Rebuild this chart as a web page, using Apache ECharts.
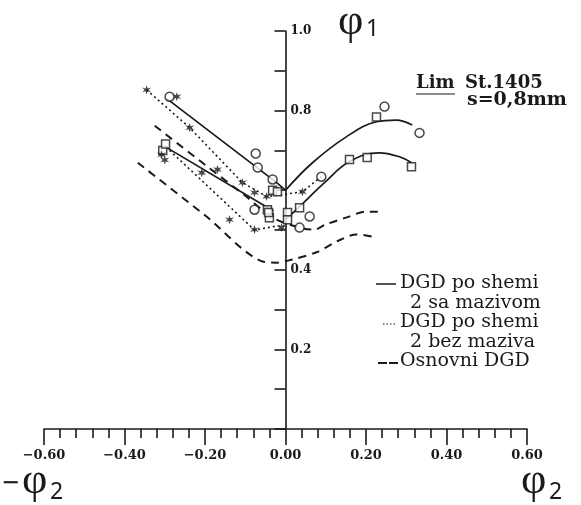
<!DOCTYPE html>
<html><head><meta charset="utf-8">
<script src="https://cdn.jsdelivr.net/npm/echarts@6.0.0/dist/echarts.min.js"></script>
<style>html,body{margin:0;padding:0;background:#fff}#c{width:581px;height:505px}</style>
</head><body><div id="c"></div>
<script>
// ---- data ----
const xTickValues = [-0.6, -0.4, -0.2, 0, 0.2, 0.4, 0.6];
const yTickLabels = ['1.0', '0.8', '0.4', '0.2'];

// DGD po shemi 2 sa mazivom (solid)
const solidUpperLeft  = [[-0.295, 0.830], [-0.022, 0.619], [0.000, 0.600]];
const solidUpperRight = [[0.000, 0.600], [0.067, 0.669], [0.151, 0.734], [0.226, 0.772], [0.275, 0.776], [0.315, 0.764]];
const solidLowerLeft  = [[-0.295, 0.707], [-0.030, 0.548]];
const solidLowerRight = [[0.000, 0.526], [0.035, 0.559], [0.097, 0.619], [0.159, 0.672], [0.233, 0.694], [0.283, 0.684], [0.313, 0.669]];

// DGD po shemi 2 bez maziva (dotted)
const dottedUpper = [[-0.345, 0.852], [-0.238, 0.757], [-0.107, 0.619], [-0.047, 0.584], [0.000, 0.590], [0.042, 0.596], [0.089, 0.634]];
const dottedLower = [[-0.288, 0.700], [-0.077, 0.500], [-0.022, 0.510], [0.000, 0.510]];

// Osnovni DGD (dashed)
const dashedUpper = [[-0.325, 0.762], [-0.200, 0.664], [-0.100, 0.586], [-0.030, 0.530], [0.035, 0.506], [0.072, 0.501], [0.100, 0.514], [0.150, 0.531], [0.200, 0.546], [0.233, 0.546]];
const dashedLower = [[-0.367, 0.669], [-0.200, 0.537], [-0.057, 0.421], [-0.022, 0.418], [0.017, 0.426], [0.077, 0.444], [0.127, 0.471], [0.176, 0.489], [0.226, 0.481]];

// measured points
const circlePts = [[-0.288, 0.835], [-0.074, 0.692], [-0.069, 0.657], [-0.032, 0.627], [-0.077, 0.551], [0.089, 0.634], [0.246, 0.810], [0.333, 0.744], [0.035, 0.506], [0.060, 0.534]];
const squarePts = [[-0.305, 0.700], [-0.298, 0.716], [-0.045, 0.551], [-0.040, 0.531], [-0.032, 0.600], [-0.020, 0.596], [0.005, 0.544], [0.005, 0.526], [0.035, 0.556], [0.159, 0.677], [0.203, 0.682], [0.313, 0.659], [0.226, 0.784], [-0.042, 0.544]];
const starPts   = [[-0.345, 0.852], [-0.270, 0.835], [-0.238, 0.757], [-0.169, 0.652], [-0.107, 0.619], [-0.077, 0.594], [-0.047, 0.584], [0.042, 0.596], [-0.308, 0.689], [-0.139, 0.526], [-0.077, 0.501], [-0.208, 0.644], [-0.010, 0.506], [-0.300, 0.676]];

// ---- chart ----
const ink = '#1a1a1a';
const starPath = 'path://M0,-10 L2.2,-3.2 L9,-5.2 L4,0 L9,5.2 L2.2,3.2 L0,10 L-2.2,3.2 L-9,5.2 L-4,0 L-9,-5.2 L-2.2,-3.2 Z';
const gridLeft = 44, gridRight = 54;
const plotW = 581 - gridLeft - gridRight;
const xMin = -0.6, xMax = 0.6;
const phiFont = '44px "Liberation Serif"';
const subFont = '23px "Noto Sans"';

function lineSeries(data, type, width, smooth) {
  return {
    type: 'line', data: data, showSymbol: false, smooth: smooth, silent: true,
    lineStyle: { color: ink, width: width, type: type }, z: 2
  };
}
function txt(x, y, text, font) {
  return { type: 'text', x: x, y: y, style: { text: text, font: font, fill: ink, verticalAlign: 'middle', align: 'left' } };
}

const chart = echarts.init(document.getElementById('c'), null, { renderer: 'canvas' });
chart.setOption({
  animation: false,
  backgroundColor: '#ffffff',
  grid: { left: gridLeft, right: gridRight, top: 31, bottom: 76, containLabel: false },
  xAxis: {
    type: 'value', min: xMin, max: xMax, interval: 0.2,
    axisLine: { show: true, onZero: true, lineStyle: { color: ink, width: 1.6 } },
    axisTick: { show: true, inside: false, length: 16, lineStyle: { color: ink, width: 1.6 } },
    minorTick: { show: true, splitNumber: 5, length: 9, lineStyle: { color: ink, width: 1.6 } },
    splitLine: { show: false },
    axisLabel: {
      margin: 20, color: ink, fontFamily: 'DejaVu Serif', fontWeight: 'bold', fontSize: 13,
      formatter: function (v) {
        const r = Math.round(v * 100) / 100;
        return (r < 0 ? '\u2212' : '') + Math.abs(r).toFixed(2);
      }
    }
  },
  yAxis: {
    type: 'value', min: 0, max: 1.0, interval: 0.1, position: 'left',
    offset: -plotW * (0 - xMin) / (xMax - xMin),
    axisLine: { show: true, onZero: false, lineStyle: { color: ink, width: 1.6 } },
    axisTick: { show: true, inside: false, length: 11, lineStyle: { color: ink, width: 1.6 } },
    splitLine: { show: false },
    axisLabel: {
      inside: true, margin: 5, color: ink, fontFamily: 'DejaVu Serif', fontWeight: 'bold', fontSize: 12,
      formatter: function (v) {
        const s = (Math.round(v * 10) / 10).toFixed(1);
        return yTickLabels.indexOf(s) >= 0 ? s : '';
      }
    }
  },
  series: [
    lineSeries(solidUpperLeft, 'solid', 1.7, false),
    lineSeries(solidUpperRight, 'solid', 1.7, 0.4),
    lineSeries(solidLowerLeft, 'solid', 1.7, false),
    lineSeries(solidLowerRight, 'solid', 1.7, 0.4),
    lineSeries(dottedUpper, [2, 3], 1.6, false),
    lineSeries(dottedLower, [2, 3], 1.6, false),
    lineSeries(dashedUpper, [8, 6], 2, 0.3),
    lineSeries(dashedLower, [8, 6], 2, 0.3),
    { type: 'scatter', data: circlePts, symbol: 'circle', symbolSize: 9, silent: true, z: 3,
      itemStyle: { color: '#ffffff', borderColor: ink, borderWidth: 1.5 } },
    { type: 'scatter', data: squarePts, symbol: 'rect', symbolSize: 8, silent: true, z: 3,
      itemStyle: { color: '#ffffff', borderColor: ink, borderWidth: 1.5 } },
    { type: 'scatter', data: starPts, symbol: starPath, symbolSize: 9, silent: true, z: 3,
      itemStyle: { color: ink } }
  ],
  graphic: [
    // axis names
    txt(338, 22, '\u03C6', phiFont),
    txt(366, 29, '1', subFont),
    txt(2, 484, '\u2212', '30px "Noto Sans"'),
    txt(22, 481, '\u03C6', phiFont),
    txt(50, 492, '2', subFont),
    txt(521, 481, '\u03C6', phiFont),
    txt(549, 492, '2', subFont),
    // material note
    { type: 'text', left: 416, top: 74, style: { text: 'Lim', font: 'bold 18px "DejaVu Serif"', fill: ink } },
    { type: 'line', shape: { x1: 416, y1: 94, x2: 455, y2: 94 }, style: { stroke: ink, lineWidth: 1.2 } },
    { type: 'text', left: 465, top: 74, style: { text: 'St.1405', font: 'bold 18px "DejaVu Serif"', fill: ink } },
    { type: 'text', left: 467, top: 91, style: { text: 's=0,8mm', font: 'bold 19px "DejaVu Serif"', fill: ink } },
    // legend
    { type: 'line', shape: { x1: 376, y1: 284, x2: 396, y2: 284 }, style: { stroke: ink, lineWidth: 1.5 } },
    { type: 'text', left: 400, top: 274, style: { text: 'DGD po shemi', font: '19px "DejaVu Serif"', fill: ink } },
    { type: 'text', left: 410, top: 294, style: { text: '2 sa mazivom', font: '19px "DejaVu Serif"', fill: ink } },
    { type: 'line', shape: { x1: 383, y1: 324, x2: 396, y2: 324 }, style: { stroke: ink, lineWidth: 1.2, lineDash: [1.5, 2] } },
    { type: 'text', left: 400, top: 313, style: { text: 'DGD po shemi', font: '19px "DejaVu Serif"', fill: ink } },
    { type: 'text', left: 410, top: 333, style: { text: '2 bez maziva', font: '19px "DejaVu Serif"', fill: ink } },
    { type: 'line', shape: { x1: 378, y1: 363, x2: 398, y2: 363 }, style: { stroke: ink, lineWidth: 1.8, lineDash: [9, 2] } },
    { type: 'text', left: 400, top: 352, style: { text: 'Osnovni DGD', font: '19px "DejaVu Serif"', fill: ink } }
  ]
});
</script>
</body></html>
